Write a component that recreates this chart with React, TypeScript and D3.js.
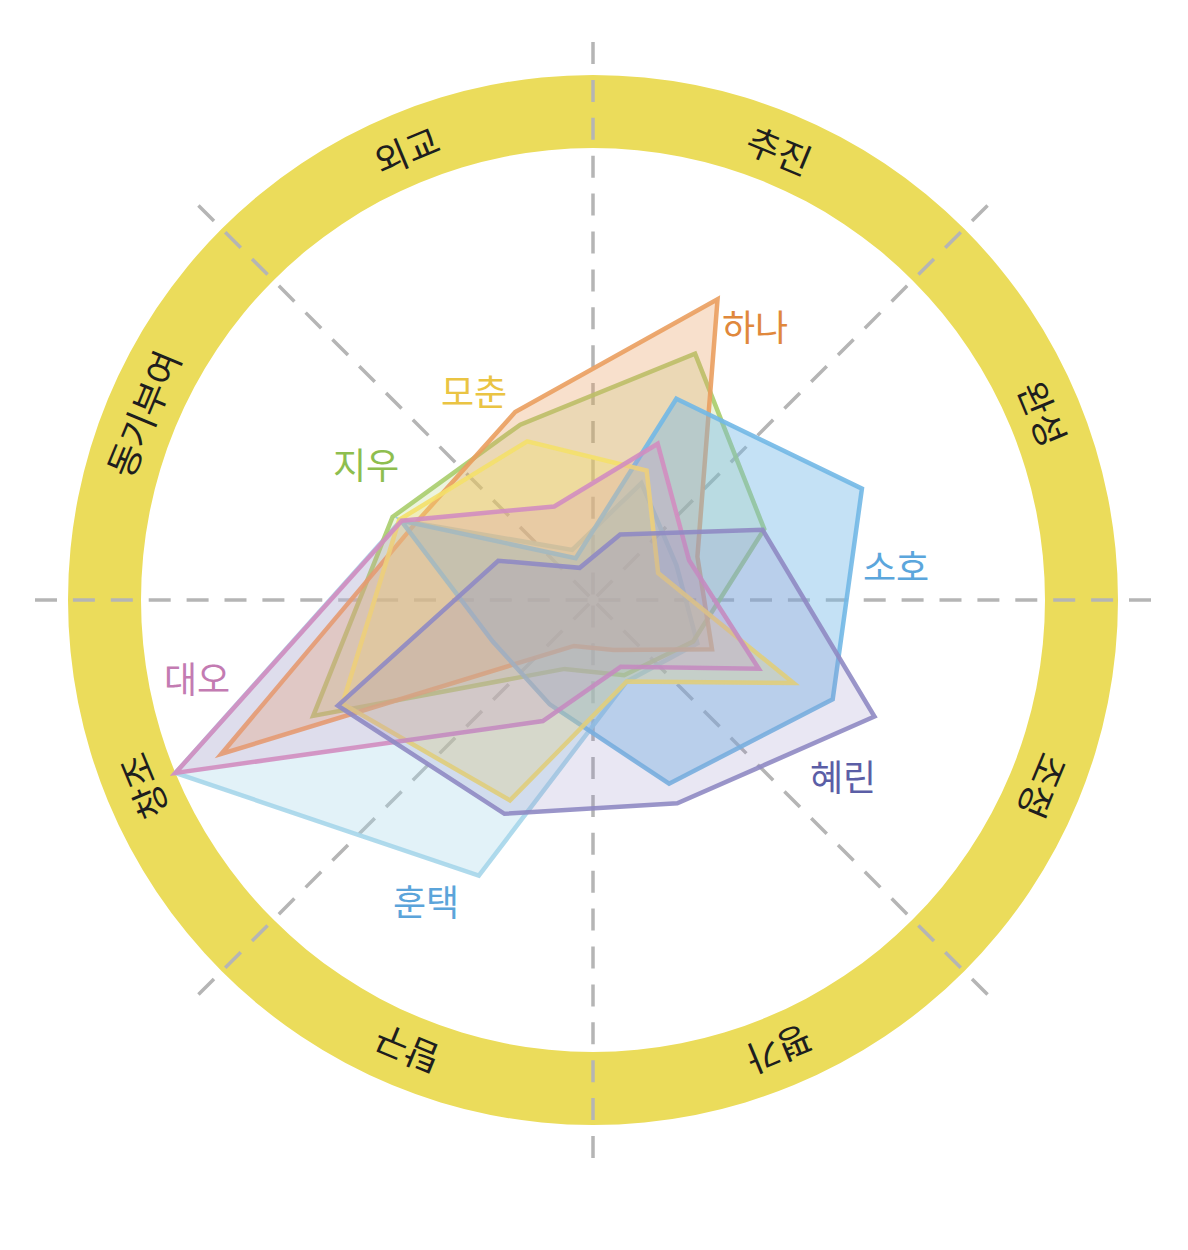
import React from 'react';
import * as d3 from 'd3';

// Eight role axes, clockwise from the top-right.
const axes = ['추진', '완성', '조정', '평가', '탐구', '창조', '동기부여', '외교'];

// Scores per member (0–100), in the axis order above.
const hunTaek = [28, 20, 25, 19.5, 66, 100, 46, 12];
const jiwoo = [59, 41, 24, 18, 16.5, 67, 48, 42];
const hana = [72, 25, 28.5, 12, 11, 89, 43, 45];
const soho = [48.2, 64.4, 57.4, 44, 25, 24, 46, 10];
const mochun = [31, 15.6, 48, 19.5, 48, 60, 46.4, 38];
const daeoh = [37.4, 23, 39.7, 16, 29, 100, 45.8, 22.4];
const hyerin = [15.7, 40.6, 67.4, 48.7, 51.2, 61.1, 22.7, 7.7];

const W = 1188;
const H = 1250;
const cx = 593;
const cy = 600;
const innerR = 452;
const outerR = 525;
const gridR = 558;

type Series = {
  name: string;
  values: number[];
  stroke: string;
  fillOpacity: number;
  labelColor: string;
  label: [number, number];
};

// Drawing order, bottom to top.
const series: Series[] = [
  { name: '훈택', values: hunTaek, stroke: '#A6D6EA', fillOpacity: 0.32, labelColor: '#5BA4DA', label: [426, 900] },
  { name: '지우', values: jiwoo, stroke: '#A9CD6B', fillOpacity: 0.22, labelColor: '#8EBE4F', label: [366, 463] },
  { name: '하나', values: hana, stroke: '#EA9E5F', fillOpacity: 0.32, labelColor: '#E0883C', label: [755, 325] },
  { name: '소호', values: soho, stroke: '#72B8E6', fillOpacity: 0.42, labelColor: '#5BA6DC', label: [896, 565] },
  { name: '모춘', values: mochun, stroke: '#F4E06A', fillOpacity: 0.3, labelColor: '#EAC443', label: [474, 390] },
  { name: '대오', values: daeoh, stroke: '#D18DC0', fillOpacity: 0.2, labelColor: '#C37BB2', label: [197, 677] },
  { name: '혜린', values: hyerin, stroke: '#8F89C3', fillOpacity: 0.2, labelColor: '#5B5EA6', label: [843, 775] },
];

const rScale = d3.scaleLinear().domain([0, 100]).range([0, innerR]);
const axisAngle = (i: number) => ((i * 45 + 22.5) * Math.PI) / 180;

const radarLine = d3
  .lineRadial<number>()
  .angle((_, i) => axisAngle(i))
  .radius((v) => rScale(v))
  .curve(d3.curveLinearClosed);

const ringArc = d3.arc()({
  innerRadius: innerR,
  outerRadius: outerR,
  startAngle: 0,
  endAngle: Math.PI * 2,
}) as string;

const FONT = '"Noto Sans CJK KR", "Noto Sans", sans-serif';

export default function App() {
  const rays = d3.range(8).map((k) => (k * 45 * Math.PI) / 180);
  return (
    <svg
      width={W}
      height={H}
      viewBox={`0 0 ${W} ${H}`}
      style={{ position: 'absolute', left: 0, top: 0, background: '#fff' }}
    >
      <g transform={`translate(${cx},${cy})`}>
        <path d={ringArc} fill="#EBDC5B" />
        {rays.map((a, k) => (
          <line
            key={k}
            x1={gridR * Math.sin(a)}
            y1={-gridR * Math.cos(a)}
            x2={0}
            y2={0}
            stroke="#B5B5B5"
            strokeWidth={3.5}
            strokeDasharray="22 15.9"
          />
        ))}
        {axes.map((name, i) => (
          <g key={name} transform={`rotate(${i * 45 + 22.5})`}>
            <text
              x={0}
              y={-(innerR + outerR) / 2}
              textAnchor="middle"
              dominantBaseline="central"
              fontFamily={FONT}
              fontSize={36}
              fill="#1E1E1E"
            >
              {name}
            </text>
          </g>
        ))}
        {series.map((s) => (
          <path
            key={s.name}
            d={radarLine(s.values) as string}
            fill={s.stroke}
            fillOpacity={s.fillOpacity}
            stroke={s.stroke}
            strokeWidth={4.5}
            strokeOpacity={0.9}
            strokeLinejoin="miter"
          />
        ))}
      </g>
      {series.map((s) => (
        <text
          key={s.name}
          x={s.label[0]}
          y={s.label[1]}
          textAnchor="middle"
          dominantBaseline="central"
          fontFamily={FONT}
          fontSize={36}
          fill={s.labelColor}
        >
          {s.name}
        </text>
      ))}
    </svg>
  );
}
